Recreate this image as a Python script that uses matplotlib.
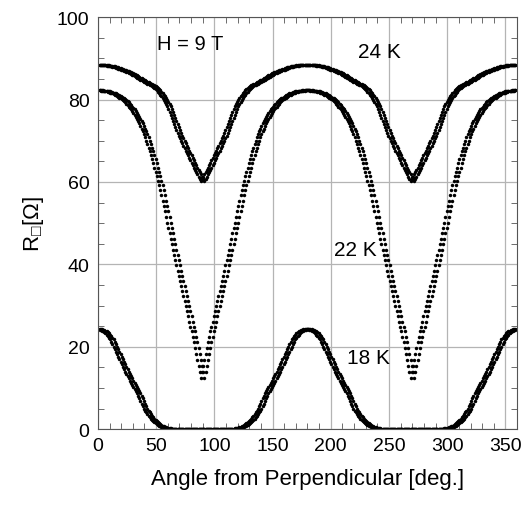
import numpy as np
import matplotlib
matplotlib.use('Agg')
import matplotlib.pyplot as plt
from matplotlib.ticker import MultipleLocator

plt.rcParams['font.family'] = ['Liberation Sans', 'DejaVu Sans']
plt.rcParams['mathtext.fontset'] = 'custom'
plt.rcParams['mathtext.rm'] = 'Liberation Sans'

# readings, 0..90 deg in 1 deg steps (ohm).
# the picture is mirror symmetric about 90 deg and repeats every 180 deg
q24 = [88.5, 88.5, 88.5, 88.5, 88.5, 88.45, 88.4, 88.35, 88.3, 88.25,
       88.2, 88.15, 88.1, 88.05, 88.0, 87.9, 87.8, 87.7, 87.6, 87.5,
       87.4, 87.3, 87.2, 87.1, 87.0, 86.85, 86.7, 86.6, 86.5, 86.35,
       86.2, 86.05, 85.9, 85.7, 85.5, 85.35, 85.2, 85.0, 84.8, 84.65,
       84.5, 84.35, 84.2, 84.05, 83.9, 83.75, 83.6, 83.45, 83.3, 83.1,
       82.9, 82.6, 82.3, 81.95, 81.6, 81.2, 80.8, 80.4, 80.0, 79.5,
       79.0, 78.35, 77.7, 76.95, 76.2, 75.5, 74.8, 74.05, 73.3, 72.6,
       71.9, 71.25, 70.6, 70.0, 69.4, 68.8, 68.2, 67.6, 67.0, 66.45,
       65.9, 65.3, 64.7, 64.1, 63.5, 62.95, 62.4, 61.85, 61.3, 60.75,
       60.2]

q22 = [82.3, 82.3, 82.3, 82.25, 82.2, 82.2, 82.2, 82.15, 82.1, 82.0,
       81.9, 81.8, 81.7, 81.6, 81.5, 81.35, 81.2, 81.05, 80.9, 80.7,
       80.5, 80.3, 80.1, 79.85, 79.6, 79.3, 79.0, 78.65, 78.3, 77.95,
       77.6, 77.2, 76.8, 76.3, 75.8, 75.3, 74.8, 74.2, 73.6, 72.95,
       72.3, 71.55, 70.8, 70.0, 69.2, 68.3, 67.4, 66.45, 65.5, 64.5,
       63.5, 62.45, 61.4, 60.3, 59.2, 58.0, 56.8, 55.5, 54.2, 52.85,
       51.5, 50.15, 48.8, 47.5, 46.2, 44.9, 43.6, 42.35, 41.1, 39.8,
       38.5, 37.25, 36.0, 34.75, 33.5, 32.25, 31.0, 29.8, 28.6, 27.35,
       26.1, 24.9, 23.7, 22.45, 21.2, 19.75, 18.3, 16.8, 15.3, 13.8,
       12.3]

q18 = [24.3, 24.3, 24.2, 24.1, 24.0, 23.9, 23.8, 23.55, 23.3, 22.95,
       22.6, 22.2, 21.8, 21.25, 20.7, 20.05, 19.4, 18.8, 18.2, 17.6,
       17.0, 16.35, 15.7, 15.1, 14.5, 13.95, 13.4, 12.85, 12.3, 11.75,
       11.2, 10.7, 10.2, 9.7, 9.2, 8.65, 8.1, 7.45, 6.8, 6.15,
       5.5, 5.0, 4.5, 4.05, 3.6, 3.25, 2.9, 2.55, 2.2, 1.95,
       1.7, 1.45, 1.2, 1.0, 0.8, 0.65, 0.5, 0.4, 0.3, 0.25,
       0.2, 0.15, 0.1, 0.07, 0.05, 0.02, 0.0, 0.0, 0.0, 0.0,
       0.0, 0.0, 0.0, 0.0, 0.0, 0.0, 0.0, 0.0, 0.0, 0.0,
       0.0, 0.0, 0.0, 0.0, 0.0, 0.0, 0.0, 0.0, 0.0, 0.0,
       0.0]

labels = ['24 K', '22 K', '18 K']
field_label = 'H = 9 T'

# the two sweep directions lag each other by a few degrees
sweep_lag = 3.0


def full_turn(q):
    # 0-90, 90-180, 180-270, 270-360
    return np.array(q + q[-2::-1] + q[1:] + q[-2::-1])


angle = np.arange(0, 361)

fig = plt.figure(figsize=(5.32, 5.06), dpi=100)
ax = fig.add_axes([0.184, 0.150, 0.788, 0.814])

for q in (q24, q22, q18):
    r = full_turn(q)
    for shift in (-sweep_lag / 2, sweep_lag / 2):
        ax.plot(angle + shift, r, 'o', color='black', ms=2.5, mew=0)

ax.set_xlim(0, 360)
ax.set_ylim(0, 100)
ax.xaxis.set_major_locator(MultipleLocator(50))
ax.xaxis.set_minor_locator(MultipleLocator(10))
ax.yaxis.set_major_locator(MultipleLocator(20))
ax.yaxis.set_minor_locator(MultipleLocator(5))
ax.grid(True, which='major', color='#b4b4b4', lw=0.9)
ax.set_axisbelow(True)
ax.tick_params(which='both', direction='in', top=True, right=True, colors='#555555',
               labelcolor='black', labelsize=14)
ax.tick_params(which='major', length=0, pad=6)
ax.tick_params(which='minor', length=4)
for s in ax.spines.values():
    s.set_color('#555555')

ax.set_xlabel('Angle from Perpendicular [deg.]', fontsize=16, labelpad=10)
ax.set_ylabel(r'$\mathregular{R_{□}[Ω]}$', fontsize=16, labelpad=8)

ax.text(79, 93.7, field_label, fontsize=14.5, ha='center', va='center')
ax.text(242, 91.7, labels[0], fontsize=15, ha='center', va='center')
ax.text(221, 43.7, labels[1], fontsize=15, ha='center', va='center')
ax.text(232, 17.5, labels[2], fontsize=15, ha='center', va='center')

fig.savefig('out.png', dpi=100)
